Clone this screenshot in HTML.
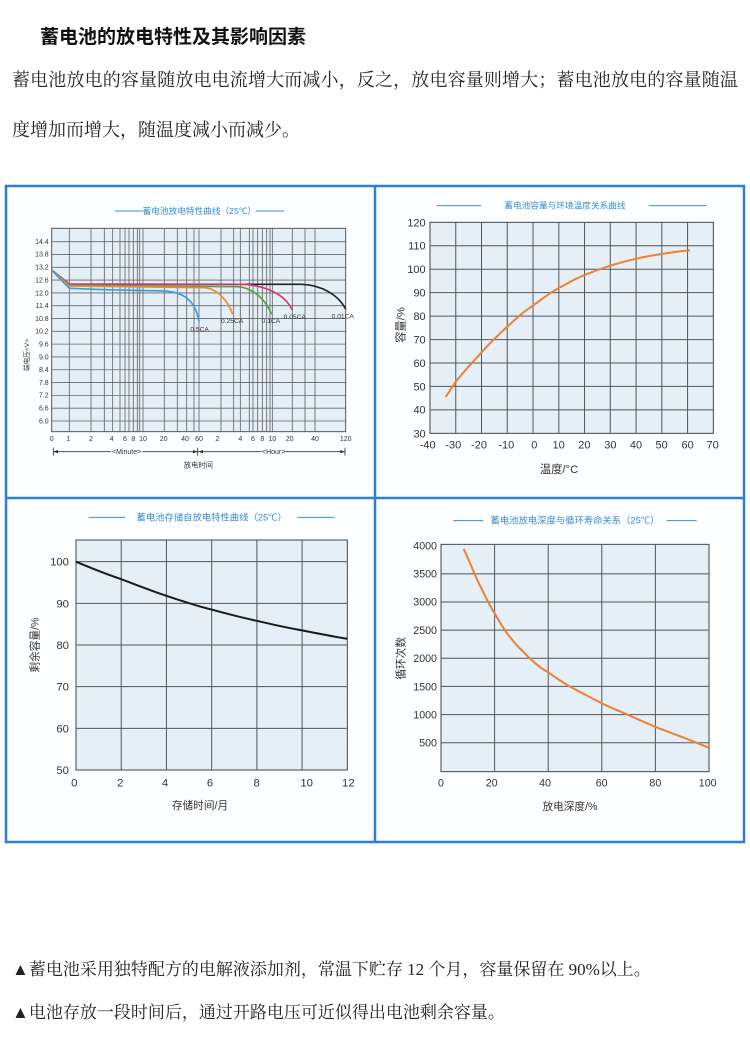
<!DOCTYPE html>
<html><head><meta charset="utf-8"><style>
html,body{margin:0;padding:0;background:#fff;}
body{width:750px;height:1038px;overflow:hidden;position:relative;}
.t{position:absolute;white-space:nowrap;color:#222;font-family:"Liberation Serif","Noto Serif CJK SC",serif;}
</style></head><body>
<div class="t" style="left:40px;top:22px;font-size:19px;font-weight:bold;font-family:'Liberation Sans','Noto Sans CJK SC',sans-serif;color:#111;">蓄电池的放电特性及其影响因素</div>
<div class="t" style="left:12px;top:66px;font-size:18px;letter-spacing:0.15px;">蓄电池放电的容量随放电电流增大而减小，反之，放电容量则增大；蓄电池放电的容量随温</div>
<div class="t" style="left:12px;top:116px;font-size:18px;">度增加而增大，随温度减小而减少。</div>
<div class="t" style="left:12px;top:955px;font-size:17px;">▲蓄电池采用独特配方的电解液添加剂，常温下贮存 12 个月，容量保留在 90%以上。</div>
<div class="t" style="left:12px;top:998px;font-size:17px;">▲电池存放一段时间后，通过开路电压可近似得出电池剩余容量。</div>

<svg width="750" height="1038" style="position:absolute;left:0;top:0" font-family="Liberation Sans, Noto Sans CJK SC, sans-serif">
<rect x="6" y="186" width="738" height="656" fill="#fdfeff" stroke="#2f7fd0" stroke-width="2.5"/>
<line x1="375" y1="186" x2="375" y2="842" stroke="#2f7fd0" stroke-width="2.5"/>
<line x1="6" y1="498" x2="744" y2="498" stroke="#2f7fd0" stroke-width="2.5"/>

<!-- Panel 1 -->
<g transform="translate(5,185) scale(0.33333)">
<line x1="330" y1="78" x2="415" y2="78" stroke="#3a8fd0" stroke-width="3"/>
<line x1="752" y1="78" x2="838" y2="78" stroke="#3a8fd0" stroke-width="3"/>
<text x="583" y="87" font-size="26" fill="#3a8fd0" text-anchor="middle">蓄电池放电特性曲线（25℃）</text>
<rect x="140" y="130" width="882" height="610" fill="#e4eff8" stroke="#555" stroke-width="3"/>
<g stroke="#666" stroke-width="2.5">
<line x1="140" y1="170" x2="1022" y2="170"/><line x1="140" y1="208.4" x2="1022" y2="208.4"/><line x1="140" y1="246.9" x2="1022" y2="246.9"/><line x1="140" y1="285.3" x2="1022" y2="285.3"/><line x1="140" y1="323.7" x2="1022" y2="323.7"/><line x1="140" y1="362.1" x2="1022" y2="362.1"/><line x1="140" y1="400.6" x2="1022" y2="400.6"/><line x1="140" y1="439" x2="1022" y2="439"/><line x1="140" y1="477.4" x2="1022" y2="477.4"/><line x1="140" y1="515.9" x2="1022" y2="515.9"/><line x1="140" y1="554.3" x2="1022" y2="554.3"/><line x1="140" y1="592.7" x2="1022" y2="592.7"/><line x1="140" y1="631.1" x2="1022" y2="631.1"/><line x1="140" y1="669.6" x2="1022" y2="669.6"/><line x1="140" y1="708" x2="1022" y2="708"/>
<line x1="193" y1="130" x2="193" y2="740"/><line x1="258" y1="130" x2="258" y2="740"/><line x1="298" y1="130" x2="298" y2="740"/><line x1="323" y1="130" x2="323" y2="740"/><line x1="345" y1="130" x2="345" y2="740"/><line x1="360" y1="130" x2="360" y2="740"/><line x1="372" y1="130" x2="372" y2="740"/><line x1="385" y1="130" x2="385" y2="740"/><line x1="397" y1="130" x2="397" y2="740"/><line x1="404" y1="130" x2="404" y2="740"/><line x1="414" y1="130" x2="414" y2="740"/><line x1="478" y1="130" x2="478" y2="740"/><line x1="517" y1="130" x2="517" y2="740"/><line x1="545" y1="130" x2="545" y2="740"/><line x1="567" y1="130" x2="567" y2="740"/><line x1="582" y1="130" x2="582" y2="740"/><line x1="648" y1="130" x2="648" y2="740"/><line x1="686" y1="130" x2="686" y2="740"/><line x1="706" y1="130" x2="706" y2="740"/><line x1="733" y1="130" x2="733" y2="740"/><line x1="744" y1="130" x2="744" y2="740"/><line x1="758" y1="130" x2="758" y2="740"/><line x1="772" y1="130" x2="772" y2="740"/><line x1="785" y1="130" x2="785" y2="740"/><line x1="795" y1="130" x2="795" y2="740"/><line x1="802" y1="130" x2="802" y2="740"/><line x1="862" y1="130" x2="862" y2="740"/><line x1="900" y1="130" x2="900" y2="740"/><line x1="930" y1="130" x2="930" y2="740"/>
</g>
<g font-size="21" fill="#333" text-anchor="end">
<text x="131" y="177">14.4</text><text x="131" y="215">13.8</text><text x="131" y="254">13.2</text><text x="131" y="292">12.6</text><text x="131" y="331">12.0</text><text x="131" y="369">11.4</text><text x="131" y="408">10.8</text><text x="131" y="446">10.2</text><text x="131" y="484">9.6</text><text x="131" y="523">9.0</text><text x="131" y="561">8.4</text><text x="131" y="600">7.8</text><text x="131" y="638">7.2</text><text x="131" y="676">6.6</text><text x="131" y="715">6.0</text>
</g>
<g font-size="21" fill="#333" text-anchor="middle">
<text x="140" y="768">0</text><text x="190" y="768">1</text><text x="258" y="768">2</text><text x="320" y="768">4</text><text x="360" y="768">6</text><text x="385" y="768">8</text><text x="414" y="768">10</text><text x="476" y="768">20</text><text x="540" y="768">40</text><text x="582" y="768">60</text><text x="637" y="768">2</text><text x="706" y="768">4</text><text x="744" y="768">6</text><text x="772" y="768">8</text><text x="802" y="768">10</text><text x="854" y="768">20</text><text x="930" y="768">40</text><text x="1022" y="768">120</text>
</g>
<g stroke="#333" stroke-width="2.5" fill="#333">
<line x1="145" y1="800" x2="1020" y2="800"/>
<line x1="145" y1="788" x2="145" y2="812"/><line x1="578" y1="788" x2="578" y2="812"/><line x1="1020" y1="788" x2="1020" y2="812"/>
<path d="M145,800 l14,-5 v10z M578,800 l-14,-5 v10z M580,800 l14,-5 v10z M1020,800 l-14,-5 v10z" stroke="none"/>
</g>
<rect x="318" y="788" width="94" height="24" fill="#fdfeff"/>
<rect x="770" y="788" width="72" height="24" fill="#fdfeff"/>
<text x="365" y="807" font-size="21" fill="#333" text-anchor="middle">&lt;Minute&gt;</text>
<text x="806" y="807" font-size="21" fill="#333" text-anchor="middle">&lt;Hour&gt;</text>
<text x="580" y="848" font-size="22" fill="#333" text-anchor="middle">放电时间</text>
<text transform="translate(72,510) rotate(-90)" font-size="20" fill="#333" text-anchor="middle">端电压&lt;V&gt;</text>
<g fill="none" stroke-width="5">
<path d="M140,255 L193,298 L890,298 C950,300 1000,330 1022,372" stroke="#222"/>
<path d="M140,255 L193,297 L720,298 C790,305 840,330 862,375" stroke="#d6327a"/>
<path d="M140,255 L193,301 L700,305 C750,310 785,350 800,388" stroke="#4aa83c"/>
<path d="M140,255 L193,303 L600,308 C640,312 670,350 683,388" stroke="#ee8a2a"/>
<path d="M140,255 L193,310 L300,314 L480,318 C530,322 570,340 582,410" stroke="#3a9ee0"/>
</g>
<g font-size="20" fill="#333">
<text x="556" y="440">0.5CA</text><text x="648" y="414">0.25CA</text><text x="770" y="414">0.1CA</text><text x="836" y="402">0.05CA</text><text x="980" y="400">0.01CA</text>
</g>
</g>

<!-- Panel 2 -->
<g transform="translate(375,185) scale(0.33333)">
<line x1="185" y1="62" x2="318" y2="62" stroke="#3a8fd0" stroke-width="3"/>
<line x1="822" y1="62" x2="995" y2="62" stroke="#3a8fd0" stroke-width="3"/>
<text x="570" y="71" font-size="26" fill="#3a8fd0" text-anchor="middle">蓄电池容量与环境温度关系曲线</text>
<rect x="165" y="112" width="850" height="633" fill="#e4eff8" stroke="#444" stroke-width="3"/>
<g stroke="#555" stroke-width="3">
<line x1="242.3" y1="112" x2="242.3" y2="745"/><line x1="319.5" y1="112" x2="319.5" y2="745"/><line x1="396.8" y1="112" x2="396.8" y2="745"/><line x1="474.1" y1="112" x2="474.1" y2="745"/><line x1="551.4" y1="112" x2="551.4" y2="745"/><line x1="628.6" y1="112" x2="628.6" y2="745"/><line x1="705.9" y1="112" x2="705.9" y2="745"/><line x1="783.2" y1="112" x2="783.2" y2="745"/><line x1="860.5" y1="112" x2="860.5" y2="745"/><line x1="937.7" y1="112" x2="937.7" y2="745"/>
<line x1="165" y1="674.7" x2="1015" y2="674.7"/><line x1="165" y1="604.3" x2="1015" y2="604.3"/><line x1="165" y1="534" x2="1015" y2="534"/><line x1="165" y1="463.7" x2="1015" y2="463.7"/><line x1="165" y1="393.3" x2="1015" y2="393.3"/><line x1="165" y1="323" x2="1015" y2="323"/><line x1="165" y1="252.7" x2="1015" y2="252.7"/><line x1="165" y1="182.4" x2="1015" y2="182.4"/>
</g>
<g font-size="33" fill="#333" text-anchor="end">
<text x="152" y="124">120</text><text x="152" y="194">110</text><text x="152" y="264">100</text><text x="152" y="335">90</text><text x="152" y="405">80</text><text x="152" y="475">70</text><text x="152" y="546">60</text><text x="152" y="616">50</text><text x="152" y="686">40</text><text x="152" y="757">30</text>
</g>
<g font-size="33" fill="#333" text-anchor="middle">
<text x="158" y="790">-40</text><text x="235" y="790">-30</text><text x="312" y="790">-20</text><text x="394" y="790">-10</text><text x="478" y="790">0</text><text x="551" y="790">10</text><text x="628" y="790">20</text><text x="706" y="790">30</text><text x="783" y="790">40</text><text x="860" y="790">50</text><text x="938" y="790">60</text><text x="1013" y="790">70</text>
</g>
<text x="552" y="864" font-size="34" fill="#333" text-anchor="middle">温度/°C</text>
<text transform="translate(88,420) rotate(-90)" font-size="34" fill="#333" text-anchor="middle">容量/%</text>
<path d="M212,636 L242.3,590.3 C270,555 295,530 319.5,502.4 C345,474 370,450 396.8,425 C420,404 445,380 474.1,361.7 C500,343 525,323 551.4,309 C578,295 600,281 628.6,270.3 C655,259 680,250 705.9,242.1 C735,233 760,226 783.2,221 C810,215 835,211 860.5,207 C890,202 915,198 945,196" fill="none" stroke="#ee8030" stroke-width="6"/>
</g>

<!-- Panel 3 -->
<g transform="translate(5,495) scale(0.33333)">
<line x1="252" y1="67" x2="360" y2="67" stroke="#3a8fd0" stroke-width="3"/>
<line x1="878" y1="67" x2="988" y2="67" stroke="#3a8fd0" stroke-width="3"/>
<text x="620" y="76" font-size="28" fill="#3a8fd0" text-anchor="middle">蓄电池存储自放电特性曲线（25℃）</text>
<rect x="213" y="135" width="814" height="690" fill="#e4eff8" stroke="#444" stroke-width="3"/>
<g stroke="#555" stroke-width="3">
<line x1="348.7" y1="135" x2="348.7" y2="825"/><line x1="484.3" y1="135" x2="484.3" y2="825"/><line x1="620" y1="135" x2="620" y2="825"/><line x1="755.7" y1="135" x2="755.7" y2="825"/><line x1="891.3" y1="135" x2="891.3" y2="825"/>
<line x1="213" y1="700" x2="1027" y2="700"/><line x1="213" y1="575" x2="1027" y2="575"/><line x1="213" y1="450" x2="1027" y2="450"/><line x1="213" y1="325" x2="1027" y2="325"/><line x1="213" y1="200" x2="1027" y2="200"/>
</g>
<g font-size="34" fill="#333" text-anchor="end">
<text x="192" y="212">100</text><text x="192" y="337">90</text><text x="192" y="462">80</text><text x="192" y="587">70</text><text x="192" y="712">60</text><text x="192" y="837">50</text>
</g>
<g font-size="34" fill="#333" text-anchor="middle">
<text x="208" y="874">0</text><text x="346" y="874">2</text><text x="480" y="874">4</text><text x="615" y="874">6</text><text x="755" y="874">8</text><text x="905" y="874">10</text><text x="1030" y="874">12</text>
</g>
<text x="585" y="942" font-size="32" fill="#333" text-anchor="middle">存储时间/月</text>
<text transform="translate(100,450) rotate(-90)" font-size="32" fill="#333" text-anchor="middle">剩余容量/%</text>
<path d="M213,200 C260,220 300,236 348.7,252.5 C395,270 440,288 484.3,302.5 C530,318 575,333 620,343.75 C665,356 710,368 755.7,377.5 C800,388 845,398 891.3,406.25 C940,416 985,425 1027,431.25" fill="none" stroke="#1a1a1a" stroke-width="6"/>
</g>

<!-- Panel 4 -->
<g transform="translate(375,495) scale(0.33333)">
<line x1="235" y1="77" x2="325" y2="77" stroke="#3a8fd0" stroke-width="3"/>
<line x1="875" y1="77" x2="965" y2="77" stroke="#3a8fd0" stroke-width="3"/>
<text x="600" y="86" font-size="28" fill="#3a8fd0" text-anchor="middle">蓄电池放电深度与循环寿命关系（25℃）</text>
<rect x="198" y="148" width="804" height="682" fill="#e4eff8" stroke="#444" stroke-width="3"/>
<g stroke="#555" stroke-width="3">
<line x1="358.8" y1="148" x2="358.8" y2="830"/><line x1="519.6" y1="148" x2="519.6" y2="830"/><line x1="680.4" y1="148" x2="680.4" y2="830"/><line x1="841.2" y1="148" x2="841.2" y2="830"/>
<line x1="198" y1="743.1" x2="1002" y2="743.1"/><line x1="198" y1="658.7" x2="1002" y2="658.7"/><line x1="198" y1="574.3" x2="1002" y2="574.3"/><line x1="198" y1="489.9" x2="1002" y2="489.9"/><line x1="198" y1="405.5" x2="1002" y2="405.5"/><line x1="198" y1="321.1" x2="1002" y2="321.1"/><line x1="198" y1="236.7" x2="1002" y2="236.7"/>
</g>
<g font-size="32" fill="#333" text-anchor="end">
<text x="186" y="163">4000</text><text x="186" y="248">3500</text><text x="186" y="332">3000</text><text x="186" y="417">2500</text><text x="186" y="501">2000</text><text x="186" y="586">1500</text><text x="186" y="670">1000</text><text x="186" y="755">500</text>
</g>
<g font-size="32" fill="#333" text-anchor="middle">
<text x="198" y="874">0</text><text x="350" y="874">20</text><text x="510" y="874">40</text><text x="680" y="874">60</text><text x="841" y="874">80</text><text x="998" y="874">100</text>
</g>
<text x="585" y="945" font-size="32" fill="#333" text-anchor="middle">放电深度/%</text>
<text transform="translate(88,490) rotate(-90)" font-size="32" fill="#333" text-anchor="middle">循环次数</text>
<path d="M266,162 C285,200 300,245 318.6,279 C335,312 345,335 358.8,354.9 C372,378 385,400 399,419 C413,436 425,452 439.2,464.6 C452,478 465,492 479.4,503.4 C492,514 505,524 519.6,532.1 C545,550 570,568 600,582.7 C625,596 652,611 680.4,624.9 C705,637 735,649 760.8,660.4 C788,673 815,684 841.2,695.8 C870,707 895,716 921.6,726.2 C950,737 975,748 1002,758.3" fill="none" stroke="#ee8030" stroke-width="6"/>
</g>
</svg>
</body></html>
